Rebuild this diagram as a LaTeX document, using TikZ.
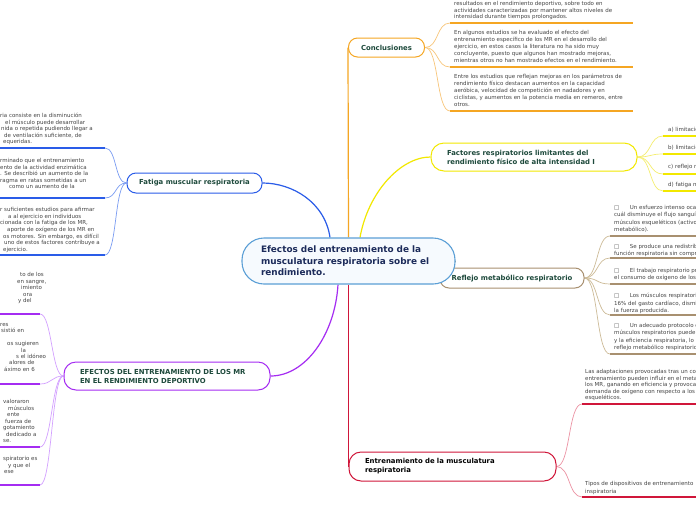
\documentclass[tikz,border=0pt]{standalone}
\usepackage{fontspec}
\setmainfont{DejaVu Sans}
\usetikzlibrary{calc}
\pgfdeclarelayer{bg}
\pgfdeclarelayer{paper}
\pgfsetlayers{paper,bg,main}
\definecolor{cenblue}{HTML}{5B9FD6}
\definecolor{cenfill}{HTML}{F6FAFE}
\definecolor{navy}{HTML}{1C2B5A}
\definecolor{tgreen}{HTML}{1E4A3C}
\definecolor{tgray}{HTML}{454545}
\definecolor{bl}{HTML}{2A5CE8}
\definecolor{blL}{HTML}{7A9CF2}
\definecolor{orng}{HTML}{F5A623}
\definecolor{orngL}{HTML}{F8C67A}
\definecolor{ylw}{HTML}{F2E800}
\definecolor{ylwL}{HTML}{F5EE70}
\definecolor{tanB}{HTML}{A89070}
\definecolor{tanL}{HTML}{CDBB98}
\definecolor{rd}{HTML}{D0163A}
\definecolor{rdL}{HTML}{EC93A4}
\definecolor{prp}{HTML}{A52CF2}
\definecolor{prpL}{HTML}{D3A0FF}
\begin{document}
\begin{tikzpicture}[x=1pt,y=-1pt,
  topic/.style={draw=#1, fill=white, line width=1pt, inner sep=0pt, align=left,
    font=\fontsize{6.9}{9}\selectfont\bfseries, text=tgreen},
  txt/.style={font=\fontsize{5.5}{#1}\selectfont, text=tgray, align=left, inner sep=0pt, anchor=north west},
  txt/.default=6.9,
  conn/.style={line width=0.7pt},
  uline/.style={line width=1.3pt},
  mainc/.style={line width=1.2pt}]
\useasboundingbox (0,0) rectangle (696,520);
\clip (0,0) rectangle (696,520);
\begin{pgfonlayer}{paper}
\fill[white] (0,0) rectangle (696,520);
\end{pgfonlayer}

% ---------- topic nodes ----------
\node[topic=tanB, rounded corners=9pt, minimum width=144pt, minimum height=20pt] (ref) at (512,278) {Reflejo metabólico respiratorio};
\node[draw=cenblue, fill=cenfill, line width=1.1pt, rounded corners=22pt, minimum width=213pt, minimum height=46pt,
  text width=175pt, align=left, inner sep=0pt, font=\fontsize{8.9}{11.5}\selectfont\bfseries, text=navy]
  (cen) at (348.5,261) {Efectos del entrenamiento de la\\musculatura respiratoria sobre el\\rendimiento.};
\node[topic=orng, rounded corners=9pt, minimum width=76pt, minimum height=19pt] (conc) at (386.5,47.5) {Conclusiones};
\node[topic=ylw, rounded corners=13pt, minimum width=206pt, minimum height=28pt, text width=174pt] (fac) at (534,157)
  {Factores respiratorios limitantes del\\rendimiento físico de alta intensidad I};
\node[topic=bl, rounded corners=9pt, minimum width=135pt, minimum height=20pt] (fat) at (194.5,183) {Fatiga muscular respiratoria};
\node[topic=prp, rounded corners=12pt, minimum width=206pt, minimum height=28pt, text width=174pt] (efe) at (167,376)
  {EFECTOS DEL ENTRENAMIENTO DE LOS MR\\EN EL RENDIMIENTO DEPORTIVO};
\node[topic=rd, rounded corners=12pt, minimum width=207pt, minimum height=29pt, text width=175pt, text=black] (ent) at (452.5,466.5)
  {Entrenamiento de la musculatura\\respiratoria};

% ---------- underline coordinates ----------
\foreach \y/\n in {23/1,67/2,111/3} {\coordinate (co\n) at (450,\y); \coordinate (coe\n) at (633,\y);}
\foreach \y/\n in {136/1,154/2,174/3,191/4} {\coordinate (fa\n) at (663,\y); \coordinate (fae\n) at (700,\y);}
\foreach \y/\n in {236/1,258/2,284/3,315/4,354/5} {\coordinate (re\n) at (610,\y); \coordinate (ree\n) at (700,\y);}
\foreach \y/\n in {404/1,497/2} {\coordinate (en\n) at (582,\y); \coordinate (ene\n) at (700,\y);}
\foreach \y/\n in {148/1,198/2,255/3} {\coordinate (ft\n) at (105,\y); \coordinate (fte\n) at (-5,\y);}
\foreach \y/\n in {314/1,384/2,447/3,485/4} {\coordinate (ef\n) at (40,\y); \coordinate (efe\n) at (-5,\y);}

\begin{pgfonlayer}{bg}
% main connectors
\draw[bl, mainc] ($(cen.north)+(-18.5,0)$) .. controls +(-5,-35) and +(30,0) .. (fat.east);
\draw[orng, mainc] (cen.north) -- (conc.west);
\draw[ylw, mainc] ($(cen.north)+(11.5,0)$) .. controls +(8,-45) and +(-30,0) .. (fac.west);
\draw[prp, mainc] ($(cen.south)+(-10.5,0)$) .. controls +(-3,50) and +(35,0) .. (efe.east);
\draw[rd, mainc] (cen.south) -- (ent.west);
\draw[tanB, mainc] (cen.east) -- (ref.west);
% child connectors
\foreach \c in {co1,co2,co3} \draw[orngL, conn] (conc.east) .. controls +(14,0) and +(-14,0) .. (\c);
\foreach \c in {fa1,fa2,fa3,fa4} \draw[ylwL, conn] (fac.east) .. controls +(14,0) and +(-14,0) .. (\c);
\foreach \c in {re1,re2,re3,re4,re5} \draw[tanL, conn] (ref.east) .. controls +(14,0) and +(-14,0) .. (\c);
\foreach \c in {en1,en2} \draw[rdL, conn] (ent.east) .. controls +(14,0) and +(-14,0) .. (\c);
\foreach \c in {ft1,ft2,ft3} \draw[blL, conn] (fat.west) .. controls +(-12,0) and +(12,0) .. (\c);
\foreach \c in {ef1,ef2,ef3,ef4} \draw[prpL, conn] (efe.west) .. controls +(-12,0) and +(12,0) .. (\c);
\end{pgfonlayer}

% underlines
\foreach \n in {1,2,3} \draw[orng, uline] (co\n) -- (coe\n);
\foreach \n in {1,2,3,4} \draw[ylw, uline] (fa\n) -- (fae\n);
\foreach \n in {1,2,3,4,5} \draw[tanB, uline] (re\n) -- (ree\n);
\foreach \n in {1,2} \draw[rd, uline] (en\n) -- (ene\n);
\foreach \n in {1,2,3} \draw[bl, uline] (ft\n) -- (fte\n);
\foreach \n in {1,2,3,4} \draw[prp, uline] (ef\n) -- (efe\n);

% ---------- Conclusiones texts ----------
\node[txt=6.7] (tc1) at (454,1.2) {resultados en el rendimiento deportivo, sobre todo en\\actividades caracterizadas por mantener altos niveles de\\intensidad durante tiempos prolongados.};
\node[txt=7] (tc2) at (454,30.2) {En algunos estudios se ha evaluado el efecto del\\entrenamiento específico de los MR en el desarrollo del\\ejercicio, en estos casos la literatura no ha sido muy\\concluyente, puesto que algunos han mostrado mejoras,\\mientras otros no han mostrado efectos en el rendimiento.};
\node[txt=6.8] (tc3) at (454,74.2) {Entre los estudios que reflejan mejoras en los parámetros de\\rendimiento físico destacan aumentos en la capacidad\\aeróbica, velocidad de competición en nadadores y en\\ciclistas, y aumentos en la potencia media en remeros, entre\\otros.};

% ---------- Factores texts ----------
\node[txt] (tf1) at (668,127.2) {a) limitación};
\node[txt] (tf2) at (668,145.2) {b) limitación};
\node[txt] (tf3) at (668,164.2) {c) reflejo metabólico};
\node[txt] (tf4) at (668,182.2) {d) fatiga muscular};

% ---------- Reflejo texts ----------
\node[txt=7.3] (tr1) at (614,205.2) {□\hspace{10.5pt}Un esfuerzo intenso ocasiona\\cuál disminuye el flujo sanguíneo\\músculos esqueléticos (activos)\\metabólico).};
\node[txt=7.3] (tr2) at (614,243.7) {□\hspace{10.5pt}Se produce una redistribución\\función respiratoria sin comprometer};
\node[txt=7.3] (tr3) at (614,268.2) {□\hspace{10.5pt}El trabajo respiratorio produce\\el consumo de oxígeno de los};
\node[txt=7.3] (tr4) at (614,293.2) {□\hspace{10.5pt}Los músculos respiratorios\\16\% del gasto cardíaco, disminuyendo\\la fuerza producida.};
\node[txt=7.3] (tr5) at (614,323.2) {□\hspace{10.5pt}Un adecuado protocolo de\\músculos respiratorios puede\\y la eficiencia respiratoria, lo\\reflejo metabólico respiratorio};

% ---------- Entrenamiento texts ----------
\node[txt=6.6] (te1) at (585,369.2) {Las adaptaciones provocadas tras un correcto\\entrenamiento pueden influir en el metabolismo\\los MR, ganando en eficiencia y provocando\\demanda de oxígeno con respecto a los\\esqueléticos.};
\node[txt=7.8] (te2) at (585,481.2) {Tipos de dispositivos de entrenamiento\\inspiratoria};

% ---------- Fatiga texts ----------
\node[txt=6.5] (tl1) at (0,113.2) {ria consiste en la disminución\\\hspace*{5pt}el músculo puede desarrollar\\\hspace*{1pt}nida o repetida pudiendo llegar a\\\hspace*{4pt}de ventilación suficiente, de\\\hspace*{3pt}equeridas.};
\node[txt=6.5] (tl2) at (0,158.2) {rminado que el entrenamiento\\ento de la actividad enzimática\\. Se describió un aumento de la\\ragma en ratas sometidas a un\\\hspace*{9pt}como un aumento de la};
\node[txt=6.67] (tl3) at (0,207.2) {r suficientes estudios para afirmar\\\hspace*{8pt}a al ejercicio en individuos\\cionada con la fatiga de los MR,\\\hspace*{7pt}aporte de oxígeno de los MR en\\\hspace*{3pt}os motores. Sin embargo, es difícil\\\hspace*{4pt}uno de estos factores contribuye a\\\hspace*{3pt}ejercicio.};

% ---------- EFECTOS texts ----------
\node[txt=6.5] (tp1) at (0,272.2) {\hspace*{20pt}to de los\\\hspace*{17pt}en sangre,\\\hspace*{21pt}imiento\\\hspace*{23pt}ora\\\hspace*{18pt}y del};
\node[txt=6.4] (tp2) at (0,323.2) {res\\\hspace*{1pt}sistió en\\\mbox{}\\\hspace*{7pt}os sugieren\\\hspace*{21pt}la\\\hspace*{16pt}s el idóneo\\\hspace*{9pt}alores de\\\hspace*{4pt}áximo en 6};
\node[txt=6.5] (tp3) at (0,399.2) {\hspace*{3pt}valoraron\\\hspace*{8pt}músculos\\\hspace*{7pt}ente\\\hspace*{5pt}fuerza de\\\hspace*{3pt}gotamiento\\\hspace*{6pt}dedicado a\\\hspace*{3pt}se.};
\node[txt=6.5] (tp4) at (0,456.2) {\hspace*{3pt}spiratorio es\\\hspace*{8pt}y que el\\\hspace*{4pt}ese};
\end{tikzpicture}
\end{document}
